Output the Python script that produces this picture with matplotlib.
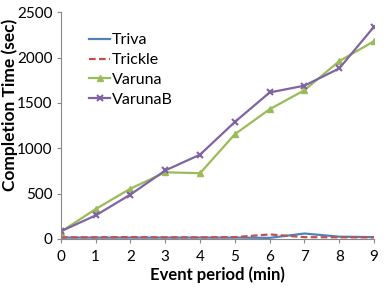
import matplotlib.pyplot as plt
import numpy as np

# ============= Data =============
periods = [0, 1, 2, 3, 4, 5, 6, 7, 8, 9]
triva = [15, 15, 15, 15, 15, 15, 12, 60, 25, 20]
trickle = [18, 18, 20, 18, 18, 20, 50, 20, 18, 18]
varuna = [80, 330, 555, 735, 725, 1155, 1430, 1640, 1960, 2180]
varunab = [85, 260, 490, 755, 930, 1290, 1615, 1690, 1880, 2340]

plt.rcParams['font.family'] = ['Lato', 'DejaVu Sans']

fig = plt.figure(figsize=(3.88, 2.90), dpi=100)
ax = fig.add_axes([0.157, 0.176, 0.807, 0.782])

ax.plot(periods, triva, color='#4F81BD', lw=1.6, label='Triva')
ax.plot(periods, trickle, color='#C0504D', lw=1.6, ls=(0, (3, 1.5)), label='Trickle')
ax.plot(periods, varuna, color='#9BBB59', lw=1.6, marker='^', ms=5, label='Varuna')
ax.plot(periods, varunab, color='#8064A2', lw=1.6, marker='x', ms=5, mew=1.5, label='VarunaB')

ax.set_xlim(0, 9)
ax.set_ylim(0, 2500)
ax.set_xticks(periods)
ax.set_yticks([0, 500, 1000, 1500, 2000, 2500])
ax.spines['top'].set_visible(False)
ax.spines['right'].set_visible(False)
for s in ['left', 'bottom']:
    ax.spines[s].set_color('#888888')
ax.tick_params(axis='both', labelsize=11, color='#888888', length=3)
ax.tick_params(axis='x', pad=5)
ax.tick_params(axis='y', pad=3)
ax.set_xlabel('Event period (min)', fontsize=12, fontweight='bold', labelpad=2)
# y label sits above centre like the original
fig.text(0.004, 0.64, 'Completion Time (sec)', rotation=90, fontsize=12.5,
         fontweight='bold', ha='left', va='center')

ax.legend(loc='upper left', bbox_to_anchor=(0.07, 0.935), frameon=False, fontsize=11.5,
          handlelength=1.3, handletextpad=0.1, labelspacing=0.35, borderaxespad=0)

fig.savefig('out.png', dpi=100)
